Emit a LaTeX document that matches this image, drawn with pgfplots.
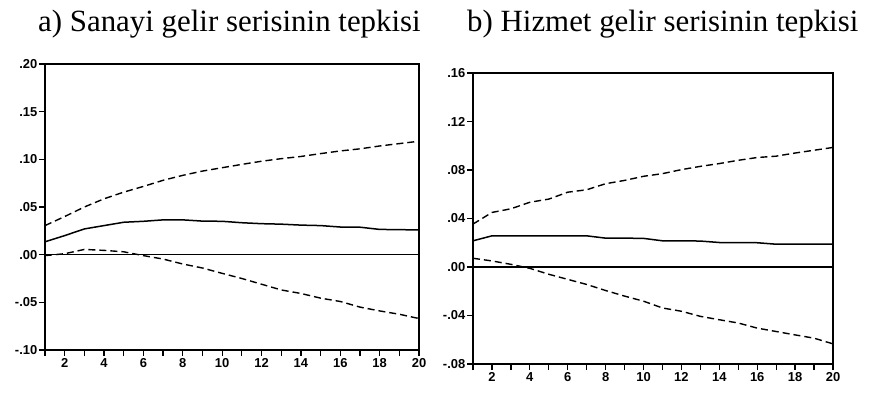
\documentclass[border=0pt]{standalone}
\usepackage{fontspec}
\setmainfont{Liberation Serif}
\newfontfamily\tickfont{Liberation Sans}
\usepackage{pgfplots}
\pgfplotsset{compat=1.18}
\pgfplotsset{
  irf/.style={
    scale only axis,
    xmin=1, xmax=20,
    axis line style={black, line width=1.4bp},
    tick style={black, line width=1.3bp},
    tick align=outside,
    major tick length=6bp,
    xtick pos=bottom, ytick pos=left,
    xtick={1,...,20},
    xticklabels={,2,,4,,6,,8,,10,,12,,14,,16,,18,,20},
    tick label style={font=\tickfont\bfseries\fontsize{13}{14}\selectfont, black},
    yticklabel style={inner sep=1.5bp},
    xticklabel style={inner sep=2.5bp},
    clip=false,
  },
  est/.style={black, line width=1.5bp},
  band/.style={black, line width=1.4bp, dash pattern=on 7bp off 4bp},
}
\begin{document}
\begin{tikzpicture}
\path[use as bounding box] (0,0) rectangle (873bp,394bp);
\node[anchor=base west, inner sep=0, font=\fontsize{31}{31}\selectfont] at (38bp,362bp) {a) Sanayi gelir serisinin tepkisi};
\node[anchor=base west, inner sep=0, font=\fontsize{31}{31}\selectfont] at (467bp,362bp) {b) Hizmet gelir serisinin tepkisi};

\begin{axis}[irf, at={(45bp,44bp)}, anchor=south west, width=374bp, height=286bp,
  ymin=-0.10, ymax=0.20,
  ytick={-0.10,-0.05,0,0.05,0.10,0.15,0.20},
  yticklabels={-.10,-.05,.00,.05,.10,.15,.20}]
\addplot[est] coordinates {(1,0)(20,0)};
\addplot[est] coordinates {
(1,0.0135)(2,0.020)(3,0.027)(4,0.0305)(5,0.034)(6,0.0350)(7,0.0365)(8,0.0365)(9,0.0352)(10,0.0350)
(11,0.0335)(12,0.0325)(13,0.0320)(14,0.0310)(15,0.0305)(16,0.0290)(17,0.0288)(18,0.0265)(19,0.0262)(20,0.0260)};
\addplot[band] coordinates {
(1,0.0305)(2,0.040)(3,0.050)(4,0.0586)(5,0.0656)(6,0.0716)(7,0.078)(8,0.0832)(9,0.0877)(10,0.0912)
(11,0.0947)(12,0.098)(13,0.1007)(14,0.1030)(15,0.1060)(16,0.1088)(17,0.1110)(18,0.1140)(19,0.1165)(20,0.119)};
\addplot[band] coordinates {
(1,-0.001)(2,0.001)(3,0.0055)(4,0.0045)(5,0.003)(6,-0.001)(7,-0.0046)(8,-0.0098)(9,-0.014)(10,-0.0196)
(11,-0.025)(12,-0.031)(13,-0.037)(14,-0.0407)(15,-0.0456)(16,-0.0491)(17,-0.055)(18,-0.059)(19,-0.0625)(20,-0.067)};
\end{axis}

\begin{axis}[irf, at={(473bp,30bp)}, anchor=south west, width=360bp, height=291bp,
  ymin=-0.08, ymax=0.16,
  ytick={-0.08,-0.04,0,0.04,0.08,0.12,0.16},
  yticklabels={-.08,-.04,.00,.04,.08,.12,.16}]
\addplot[est] coordinates {(1,0)(20,0)};
\addplot[est] coordinates {
(1,0.0216)(2,0.0257)(3,0.0257)(4,0.0257)(5,0.0257)(6,0.0257)(7,0.0257)(8,0.0238)(9,0.0238)(10,0.0236)
(11,0.0216)(12,0.0216)(13,0.0214)(14,0.0202)(15,0.0202)(16,0.0200)(17,0.0188)(18,0.0188)(19,0.0188)(20,0.0188)};
\addplot[band] coordinates {
(1,0.0354)(2,0.045)(3,0.048)(4,0.0534)(5,0.056)(6,0.0617)(7,0.0637)(8,0.0687)(9,0.0714)(10,0.0748)
(11,0.077)(12,0.0803)(13,0.083)(14,0.0853)(15,0.088)(16,0.0903)(17,0.0914)(18,0.094)(19,0.0963)(20,0.0986)};
\addplot[band] coordinates {
(1,0.0072)(2,0.005)(3,0.0022)(4,-0.0011)(5,-0.006)(6,-0.0102)(7,-0.0144)(8,-0.0194)(9,-0.024)(10,-0.0282)
(11,-0.0338)(12,-0.0365)(13,-0.0407)(14,-0.0435)(15,-0.0462)(16,-0.0504)(17,-0.0532)(18,-0.056)(19,-0.0587)(20,-0.0634)};
\end{axis}
\end{tikzpicture}
\end{document}
